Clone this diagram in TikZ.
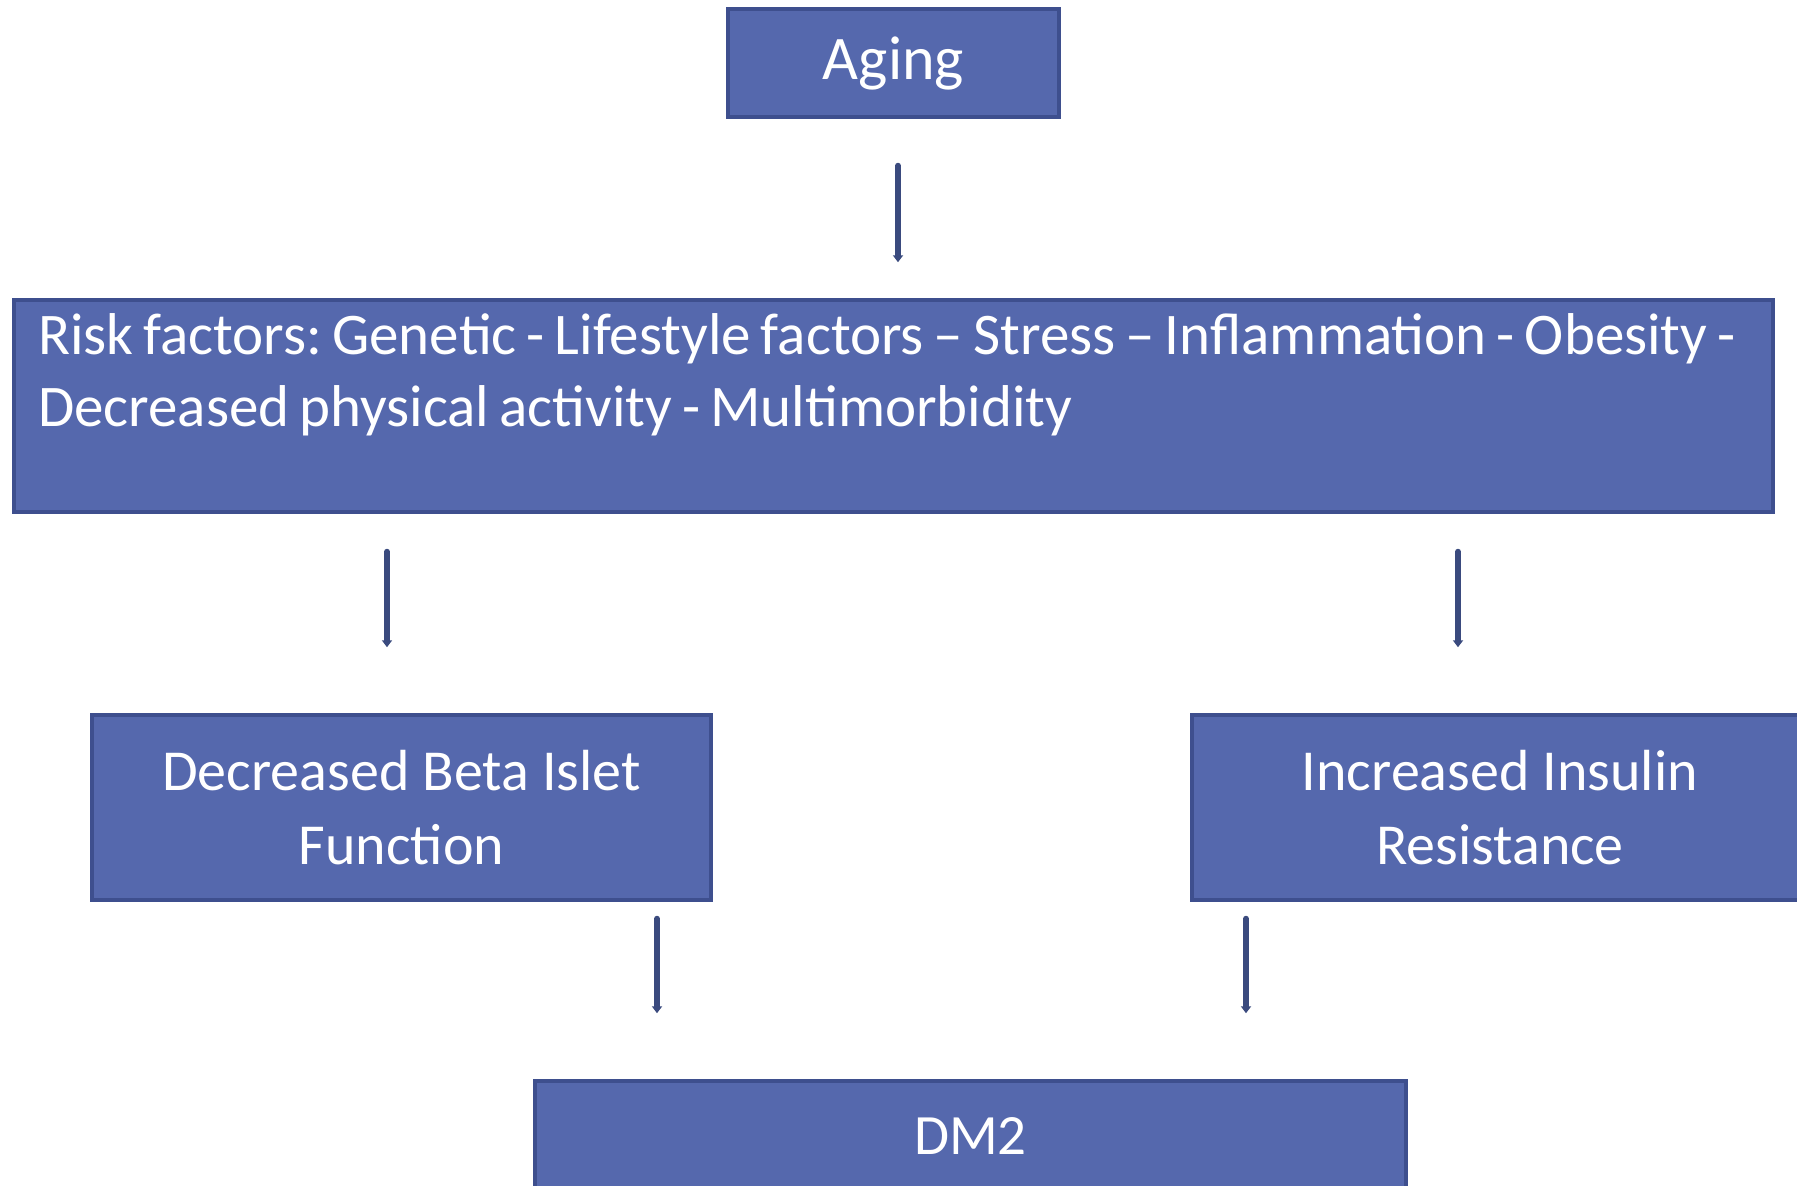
\documentclass[tikz,border=0pt]{standalone}
\usepackage{fontspec}
\setmainfont{Carlito}
\usetikzlibrary{arrows.meta,calc}
\definecolor{boxfill}{HTML}{5568AD}
\definecolor{boxline}{HTML}{3E4F8E}
\definecolor{arrcol}{HTML}{3A4A7E}
\begin{document}
\begin{tikzpicture}[x=1pt,y=1pt,
  box/.style={draw=boxline, line width=3.5pt, fill=boxfill, text=white, inner sep=0pt, align=center},
  arr/.style={draw=arrcol, line width=6pt, line cap=round, -{Triangle[length=7pt,width=10pt]}}]
\useasboundingbox (0,0) rectangle (1797,-1186);
\fill[white] (0,0) rectangle (1797,-1186);
\node[box, minimum width=331, minimum height=108, font=\fontsize{62}{74}\selectfont] (aging) at (893.5,-63) {Aging};
\node[box, minimum width=1759, minimum height=212, text width=1711, inner xsep=24pt, align=left, font=\fontsize{59}{72}\selectfont] (risk) at (893.5,-406) {\frenchspacing\spaceskip=0.17em plus 0.05em\relax Risk factors: Genetic - Lifestyle factors -- Stress -- Inflammation - Obesity -\\Decreased physical activity - Multimorbidity\\\mbox{}};
\node[box, minimum width=619, minimum height=185, font=\fontsize{58}{74}\selectfont] (beta) at (401.5,-807.5) {Decreased Beta Islet\\Function};
\node[box, minimum width=616, minimum height=185, font=\fontsize{58}{74}\selectfont] (insulin) at (1500,-807.5) {Increased Insulin\\Resistance};
\node[box, minimum width=871, minimum height=110, font=\fontsize{57}{68}\selectfont] (dm2) at (970.5,-1136) {DM2};
\draw[arr, shorten <=47pt, shorten >=36pt] ([xshift=4.5pt]aging.south) -- ([xshift=4.5pt]aging.south |- risk.north);
\draw[arr, shorten <=38pt, shorten >=66pt] ([xshift=-14.5pt]beta.north |- risk.south) -- ([xshift=-14.5pt]beta.north);
\draw[arr, shorten <=38pt, shorten >=66pt] ([xshift=-42pt]insulin.north |- risk.south) -- ([xshift=-42pt]insulin.north);
\draw[arr, shorten <=17pt, shorten >=66pt] ([xshift=255.5pt]beta.south) -- ([xshift=255.5pt]beta.south |- dm2.north);
\draw[arr, shorten <=17pt, shorten >=66pt] ([xshift=-254pt]insulin.south) -- ([xshift=-254pt]insulin.south |- dm2.north);
\end{tikzpicture}
\end{document}
